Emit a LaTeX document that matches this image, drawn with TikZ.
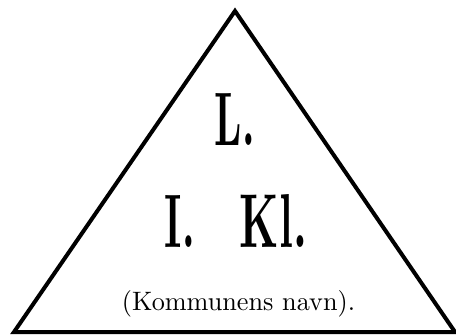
\documentclass[tikz,border=0pt]{standalone}
\usetikzlibrary{positioning}
\usepackage{graphicx}

\begin{document}
\begin{tikzpicture}[
  x=1pt, y=-1pt,
  edge/.style={draw, line width=4pt, line join=miter},
  big/.style={inner sep=0pt, font=\bfseries},
  small/.style={inner sep=0pt, anchor=base}
]
\useasboundingbox (0,0) rectangle (456,335);
\coordinate (apex) at (235,11);
\coordinate (left) at (14,332);
\coordinate (right) at (455,332);

\node[big] (klasse) at (235,119) {\resizebox{40pt}{52pt}{L.}};
\node[big] (rom) at (180,221) {\resizebox{30pt}{52pt}{I.}};
\node[big] (kl) at (273.5,221) {\resizebox{67pt}{53pt}{Kl.}};
\node[small] (navn) at (238.5,310) {\resizebox{233pt}{20pt}{(Kommunens navn).}};

\draw[edge] (left) -- (apex) -- (right) -- cycle;
\end{tikzpicture}
\end{document}
